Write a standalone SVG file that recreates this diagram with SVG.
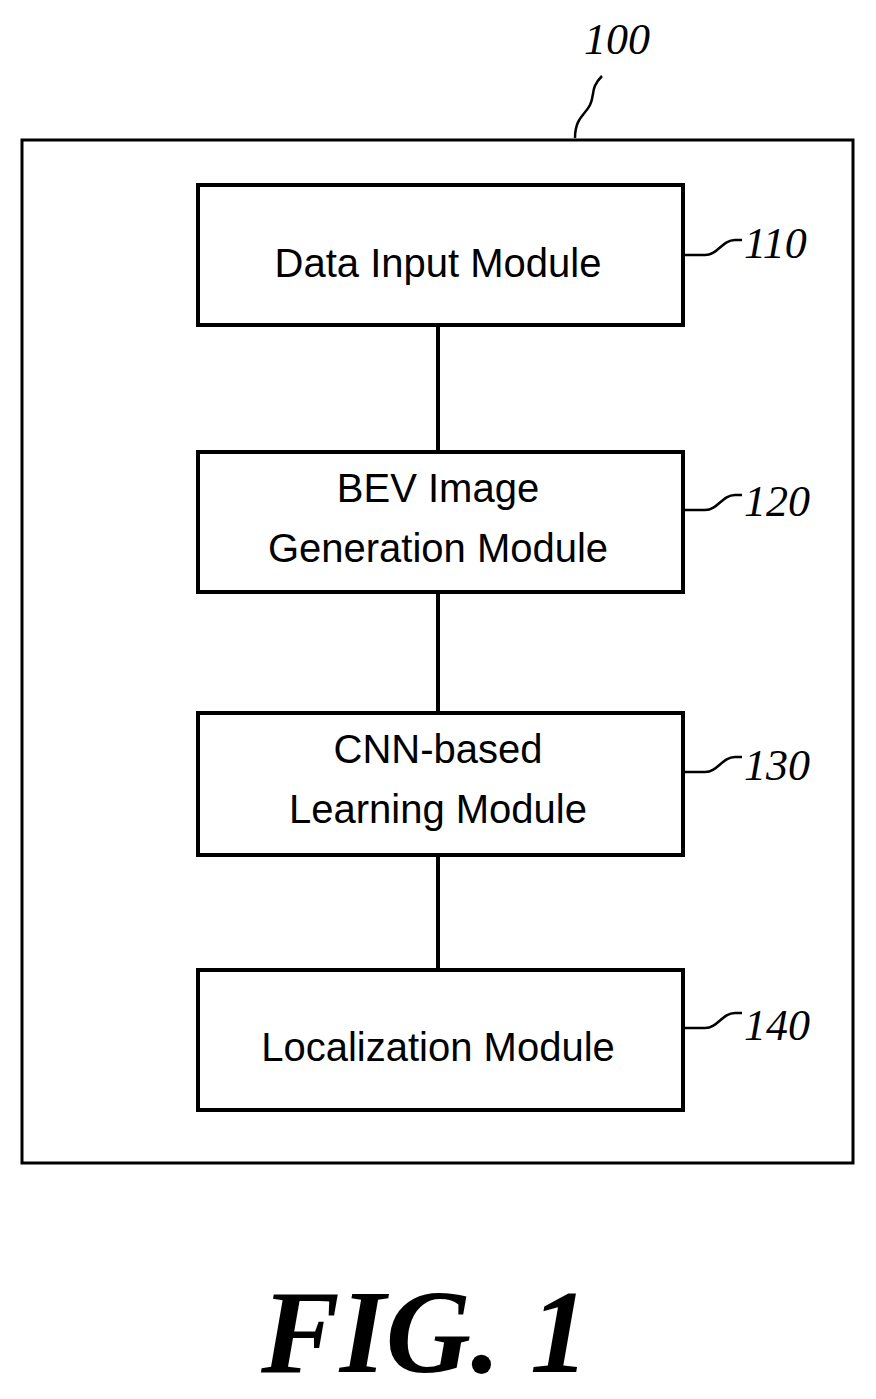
<svg xmlns="http://www.w3.org/2000/svg" width="876" height="1399" viewBox="0 0 876 1399">
<style>
.box{fill:#fff;stroke:#000;stroke-width:4}
.t{font-family:"Liberation Sans",Arial,sans-serif;font-size:40px;text-anchor:middle;fill:#000}
.ref{font-family:"Liberation Serif","Times New Roman",serif;font-style:italic;font-size:44px;fill:#000}
.sq{fill:none;stroke:#000;stroke-width:2.5}
</style>
<rect width="876" height="1399" fill="#fff"/>
<g id="n100">
<rect x="22" y="140" width="831" height="1023" fill="none" stroke="#000" stroke-width="3"/>
<path class="sq" d="M575,138 C575,118 585,115 590,105 C595,95 590,88 602,76"/>
<text class="ref" x="584" y="54">100</text>
</g>
<g id="connectors" stroke="#000" stroke-width="4">
<line x1="438" y1="325" x2="438" y2="452"/>
<line x1="438" y1="592" x2="438" y2="713"/>
<line x1="438" y1="855" x2="438" y2="970"/>
</g>
<g id="n110">
<rect class="box" x="198" y="185" width="485" height="140"/>
<text class="t" x="438" y="277">Data Input Module</text>
<path class="sq" d="M683,255 L705,255 C718,255 722,240 735,240 L742,240"/>
<text class="ref" x="744" y="258">110</text>
</g>
<g id="n120">
<rect class="box" x="198" y="452" width="485" height="140"/>
<text class="t" x="438" y="502">BEV Image</text>
<text class="t" x="438" y="562">Generation Module</text>
<path class="sq" d="M683,510 L705,510 C718,510 722,495 735,495 L742,495"/>
<text class="ref" x="744" y="516">120</text>
</g>
<g id="n130">
<rect class="box" x="198" y="713" width="485" height="142"/>
<text class="t" x="438" y="763">CNN-based</text>
<text class="t" x="438" y="823">Learning Module</text>
<path class="sq" d="M683,772 L705,772 C718,772 722,757 735,757 L742,757"/>
<text class="ref" x="744" y="780">130</text>
</g>
<g id="n140">
<rect class="box" x="198" y="970" width="485" height="140"/>
<text class="t" x="438" y="1061">Localization Module</text>
<path class="sq" d="M683,1028 L705,1028 C718,1028 722,1013 735,1013 L742,1013"/>
<text class="ref" x="744" y="1040">140</text>
</g>
<text x="425" y="1372" font-family="Liberation Serif,'Times New Roman',serif" font-style="italic" font-weight="bold" font-size="118" text-anchor="middle">FIG. 1</text>
</svg>
